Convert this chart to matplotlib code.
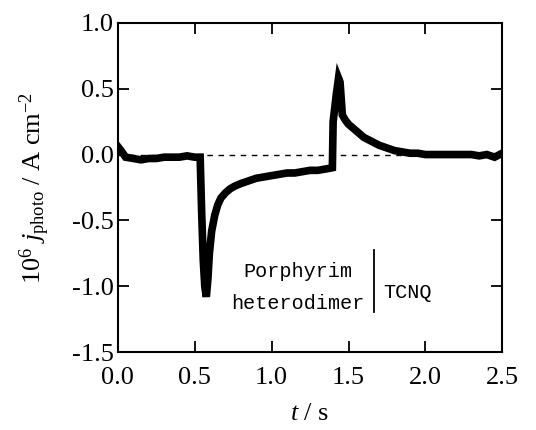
import matplotlib
matplotlib.use("Agg")
from matplotlib import pyplot as plt

# photocurrent transient
t_s = [0.00, 0.02, 0.05, 0.10, 0.15, 0.20, 0.25, 0.30, 0.35, 0.40, 0.45, 0.50,
       0.535, 0.545, 0.555, 0.565, 0.575, 0.585, 0.595, 0.61, 0.63, 0.65, 0.67,
       0.70, 0.73, 0.76, 0.80, 0.85, 0.90, 0.95, 1.00, 1.05, 1.10, 1.15, 1.20,
       1.25, 1.30, 1.35, 1.395, 1.40, 1.42, 1.435, 1.445, 1.46, 1.48, 1.50,
       1.53, 1.56, 1.60, 1.65, 1.70, 1.75, 1.80, 1.85, 1.90, 1.95, 2.00, 2.10,
       2.20, 2.30, 2.35, 2.40, 2.45, 2.50]
j_photo = [0.06, 0.03, -0.02, -0.03, -0.04, -0.03, -0.03, -0.02, -0.02, -0.02,
           -0.01, -0.02, -0.02, -0.45, -0.80, -1.00, -1.08, -0.95, -0.75, -0.58,
           -0.46, -0.38, -0.33, -0.29, -0.26, -0.24, -0.22, -0.20, -0.18, -0.17,
           -0.16, -0.15, -0.14, -0.14, -0.13, -0.12, -0.12, -0.11, -0.10, 0.25,
           0.45, 0.58, 0.55, 0.30, 0.26, 0.23, 0.20, 0.17, 0.13, 0.10, 0.07,
           0.05, 0.03, 0.02, 0.01, 0.01, 0.00, 0.00, 0.00, 0.00, -0.01, 0.00,
           -0.02, 0.01]

x_ticks = [0.0, 0.5, 1.0, 1.5, 2.0, 2.5]
y_ticks = [-1.5, -1.0, -0.5, 0.0, 0.5, 1.0]

plt.rcParams['font.family'] = ['Liberation Serif', 'DejaVu Serif']
plt.rcParams['mathtext.fontset'] = 'custom'
plt.rcParams['mathtext.rm'] = 'Liberation Serif'
plt.rcParams['mathtext.it'] = 'Liberation Serif:italic'
plt.rcParams['axes.unicode_minus'] = False

fig = plt.figure(figsize=(5.36, 4.30), dpi=100)
ax = fig.add_axes([0.220, 0.181, 0.717, 0.766])

ax.plot([0, 2.5], [0, 0], color='black', lw=1, ls=(0, (4, 4)))
ax.plot(t_s, j_photo, color='black', lw=5.5, solid_joinstyle='miter')

ax.set_xlim(0, 2.5)
ax.set_ylim(-1.5, 1.0)
ax.set_xticks(x_ticks)
ax.set_yticks(y_ticks)
ax.set_xticklabels(['%.1f' % v for v in x_ticks])
ax.set_yticklabels(['%.1f' % v for v in y_ticks])
ax.tick_params(direction='in', top=True, right=True, length=8, width=1.3,
               labelsize=19)
ax.tick_params(axis='x', pad=11)
ax.tick_params(axis='y', pad=3)
for sp in ax.spines.values():
    sp.set_linewidth(1.5)

ax.set_xlabel(r'$t$ / s', fontsize=19, labelpad=10)
ax.set_ylabel(r'10$^6$ $j_{\rm photo}$ / A cm$^{-2}$', fontsize=19, labelpad=14)

# electrode label
ax.text(1.17, -0.89, 'Porphyrim', family='Liberation Mono', fontsize=14.5,
        ha='center', va='center')
ax.text(1.17, -1.13, 'heterodimer', family='Liberation Mono', fontsize=14.5,
        ha='center', va='center')
ax.plot([1.667, 1.667], [-0.725, -1.196], color='black', lw=1.3)
ax.text(1.725, -1.05, 'TCNQ', family='Liberation Mono', fontsize=14.5,
        ha='left', va='center')

fig.savefig('out.png', dpi=100)
